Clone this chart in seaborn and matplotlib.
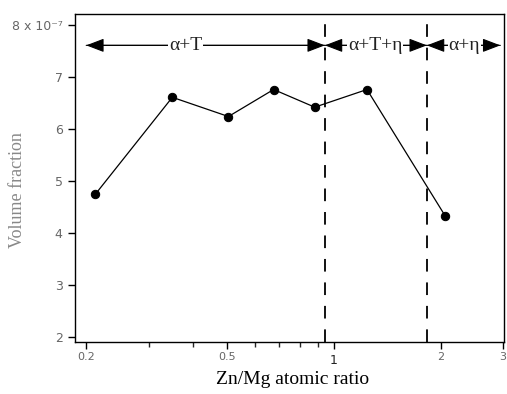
import matplotlib
matplotlib.use("Agg")
import matplotlib.pyplot as plt
from matplotlib.ticker import FixedLocator, NullFormatter
import seaborn as sns
import pandas as pd

# data
zn_mg_ratio = [0.212, 0.35, 0.504, 0.676, 0.883, 1.24, 2.06]
volume_fraction = [4.74, 6.61, 6.24, 6.76, 6.42, 6.76, 4.33]
boundaries = [0.943, 1.83]
region_labels = ["α+T", "α+T+η", "α+η"]
region_label_x = [0.381, 1.31, 2.33]
region_edges = [0.2, 0.943, 1.83, 2.95]
xtick_major = [0.2, 0.5, 1, 2, 3]
xtick_labels = ["0.2", "0.5", "", "2", "3"]
xtick_minor = [0.3, 0.4, 0.6, 0.7, 0.8, 0.9]
ytick_vals = [2, 3, 4, 5, 6, 7, 8]
ytick_labels = ["2", "3", "4", "5", "6", "7", "8 x 10⁻⁷"]

sns.set_style("ticks")
plt.rcParams["font.family"] = ["DejaVu Sans"]

df = pd.DataFrame({"x": zn_mg_ratio, "y": volume_fraction})

fig = plt.figure(figsize=(5.07, 3.94), dpi=100)
ax = fig.add_axes([0.148, 0.132, 0.846, 0.832])

sns.lineplot(data=df, x="x", y="y", ax=ax, color="black", lw=0.9,
             marker="o", markersize=6, markeredgecolor="black",
             markerfacecolor="black")

ax.set_xscale("log")
ax.set_xlim(0.186, 3.02)
ax.set_ylim(1.9, 8.21)

for b in boundaries:
    ax.axvline(b, color="black", lw=1.3, dashes=(7, 6))

arrow_y = 7.61
for i in range(len(region_labels)):
    ax.annotate("", xy=(region_edges[i + 1], arrow_y), xytext=(region_edges[i], arrow_y),
                arrowprops=dict(arrowstyle="-|>,head_length=1.1,head_width=0.42",
                                color="black", lw=0.8, shrinkA=0, shrinkB=0,
                                mutation_scale=10))
    ax.annotate("", xy=(region_edges[i], arrow_y), xytext=(region_edges[i + 1], arrow_y),
                arrowprops=dict(arrowstyle="-|>,head_length=1.1,head_width=0.42",
                                color="black", lw=0.8, shrinkA=0, shrinkB=0,
                                mutation_scale=10))
    ax.text(region_label_x[i], arrow_y, region_labels[i], ha="center", va="center",
            fontsize=14, family="Liberation Serif", color="#222222",
            bbox=dict(facecolor="white", edgecolor="none", pad=0.5))

ax.xaxis.set_major_locator(FixedLocator(xtick_major))
ax.set_xticklabels(xtick_labels)
ax.xaxis.set_minor_locator(FixedLocator(xtick_minor))
ax.xaxis.set_minor_formatter(NullFormatter())
ax.text(1, -0.037, "1", transform=ax.get_xaxis_transform(), ha="center", va="top",
        fontsize=9, color="#222222")

ax.set_yticks(ytick_vals)
ax.set_yticklabels(ytick_labels)

ax.tick_params(axis="both", which="major", direction="out", length=5, width=1,
               colors="black", labelcolor="#666666", pad=2)
ax.tick_params(axis="x", which="major", labelsize=8)
ax.tick_params(axis="y", which="major", labelsize=9, pad=4)
ax.tick_params(axis="x", which="minor", direction="out", length=3.5, width=1)

for s in ax.spines.values():
    s.set_color("black")
    s.set_linewidth(1.0)

ax.set_xlabel("Zn/Mg atomic ratio", family="Liberation Serif", fontsize=14,
              color="black")
ax.xaxis.set_label_coords(0.508, -0.088)
ax.set_ylabel("Volume fraction", family="Liberation Serif", fontsize=13,
              color="#888888")
ax.yaxis.set_label_coords(-0.115, 0.463)

fig.savefig("out.png", dpi=100)
